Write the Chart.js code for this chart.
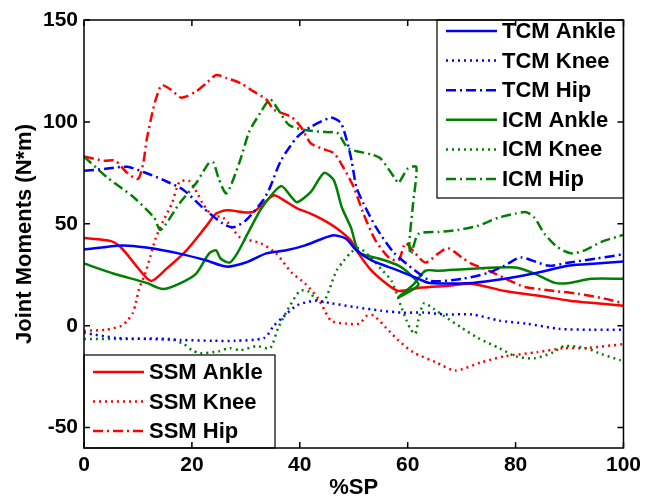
<!DOCTYPE html>
<html lang="en">
<head>
    <meta charset="UTF-8">
    <title>Joint Moments</title>
    <script src="https://cdn.jsdelivr.net/npm/chart.js"></script>
    <style>
        body { margin: 0; background: #fff; }
    </style>
</head>
<body>
    <canvas id="momentsChart" width="646" height="501"></canvas>

    <script>
        // axis ticks
        const xTicks = [0, 20, 40, 60, 80, 100];
        const yTicks = [-50, 0, 50, 100, 150];

        // TCM (blue)
        const tcmAnkleX = [0, 7, 11.5, 17.5, 22.7, 26.4, 30, 33.8, 37.5, 41, 46, 48.5, 50.5, 53.3, 58.3, 62, 64, 72, 78, 84, 90, 95, 100];
        const tcmAnkleY = [37.4, 39.4, 38.4, 35.5, 32, 29, 31, 35.5, 37, 39.4, 44.3, 42.8, 37, 32, 27, 23, 21, 21, 23, 26, 29.5, 30.5, 31.5];
        const tcmKneeX = [0, 6, 12, 18, 24, 28, 33.4, 35.2, 36.8, 39.5, 43, 45.8, 50.6, 55, 59, 63, 67, 72, 77, 82, 88, 94, 100];
        const tcmKneeY = [-3.5, -6, -6.5, -7, -7.4, -7.4, -6, 0, 4, 10, 12.3, 11, 9, 7.4, 6.4, 6.5, 5.5, 5.5, 2.5, 1, -1.5, -2, -2];
        const tcmHipX = [0, 4, 8, 11, 14.8, 18.5, 22, 25.8, 27.7, 30, 33.2, 34.5, 36.5, 39.5, 42, 45.8, 47.6, 48.7, 49.6, 50.5, 51.8, 54.2, 57.4, 61.4, 64.4, 70, 75, 78, 81, 86, 90, 95, 100];
        const tcmHipY = [76, 77, 78, 75.4, 71.4, 66.5, 58, 50, 48.3, 51.7, 61.6, 68, 81, 92.5, 97.5, 102, 99.5, 91, 81, 68, 60, 48, 36, 27, 22, 23, 26, 29.5, 33.5, 29.5, 31, 33, 35];

        // ICM (green)
        const icmAnkleX = [0, 5.4, 11.6, 14.6, 17.7, 20.8, 23.2, 24.5, 25.3, 27, 28.4, 30.5, 33, 36.5, 38.5, 39.5, 42, 44.5, 46.3, 47.8, 49.5, 51, 54.6, 58.3, 60.7, 62, 58.3, 61, 63.3, 65.7, 71.8, 80, 83.5, 87.3, 90, 94, 100];
        const icmAnkleY = [30.5, 25.6, 21, 18, 20.7, 25.6, 35.5, 37, 33, 31, 35.5, 46, 58, 68.5, 63, 60.6, 65.5, 75, 71.4, 58, 48, 36, 33, 29.5, 24.6, 20, 14, 20, 27, 27, 28, 28.6, 25.6, 21, 21, 23, 23];
        const icmKneeX = [0, 8, 16, 18.5, 20, 21.5, 25, 27, 29, 32, 34.5, 36, 38, 40, 41.5, 43, 44.5, 46.8, 48.2, 49.5, 51, 53, 55, 57, 58.7, 59.8, 60.5, 61.4, 62, 63, 64.8, 66.6, 70, 73, 77, 80, 83.5, 87, 89, 93, 96, 99.5];
        const icmKneeY = [-6.5, -6.5, -6.5, -9, -12, -13.5, -12.5, -11, -12, -10, -11, -1, 9, 17, 17, 13, 12, 27, 32, 36, 38, 34, 28, 22, 10, 2.5, -1.5, -4, 3, 11, 8.3, 5, -1, -6, -11, -15, -16, -13, -10, -11, -14, -17];
        const icmHipX = [0, 4.2, 9.2, 13, 14.2, 17.7, 20.8, 23.2, 24, 25, 26.4, 28.8, 30.6, 32.8, 34.5, 36, 38, 41, 44.8, 47, 49, 53.3, 55, 57.7, 58.3, 60, 61.6, 61, 60.3, 60.6, 62, 65.7, 69.4, 73, 76.8, 80, 82, 83.5, 85.4, 87.8, 90.3, 92.8, 95.8, 99.2, 100];
        const icmHipY = [83, 73, 63, 53, 47, 60, 70, 80, 80, 72, 65, 80, 95, 105, 111, 106, 98.5, 96, 95, 94.5, 87, 84, 82, 72, 70, 77, 78, 60, 40, 35, 45, 46, 47, 49, 53, 55, 55.7, 53, 45, 38.5, 35.5, 37, 41, 44, 44.5];

        // SSM (red)
        const ssmAnkleX = [0, 5, 7, 9.5, 12.4, 15.3, 19, 22.7, 24.5, 26.5, 30, 31.5, 33.3, 35.2, 37, 39.5, 42, 44.5, 47, 49.4, 51, 53.3, 56.5, 58.3, 62.5, 67, 72, 78, 84, 90, 95, 100];
        const ssmAnkleY = [43, 41.5, 38, 30, 22, 28, 37, 49, 55, 56.6, 55.6, 56, 60, 64, 61.6, 57.6, 55, 51.7, 47.5, 42, 35, 27, 19.7, 17, 18.7, 19.5, 20.5, 17, 14.8, 12.3, 11, 9.8];
        const ssmKneeX = [0, 4, 7, 8, 9, 9.6, 10.2, 11.4, 12.3, 13.3, 14.8, 16.3, 17.7, 19.5, 21, 22, 23.8, 25.8, 29, 30.6, 32.8, 35.6, 38.5, 41, 43.5, 45.8, 48.7, 51, 52.5, 53.7, 56, 58, 61, 65.3, 68.8, 73.6, 78, 84, 89, 93, 100];
        const ssmKneeY = [-2.5, -2, 0, 2.5, 6, 11, 18, 26, 34, 43, 52, 60, 70.5, 71, 65, 60, 54, 53, 43, 42, 40.4, 35.5, 26, 20.7, 13, 2.5, 1, 1, 5, 5, -1, -6.5, -13, -18, -22, -18, -15, -13, -11, -11, -9];
        const ssmHipX = [0, 3.7, 5.8, 8, 10, 11, 11.6, 12.5, 13.3, 14.4, 16, 17.9, 19, 20.8, 22.7, 24.5, 26.4, 29, 31.4, 33.8, 35.2, 38.4, 40.2, 42, 44, 46.3, 48, 50, 51.8, 54, 56.5, 58.3, 59.6, 61.4, 63.3, 65.7, 67.5, 70, 71.8, 75, 79, 81.7, 87.3, 91.5, 96.5, 100];
        const ssmHipY = [83, 81, 81, 75, 72, 80, 91, 102.5, 111, 118, 116, 112, 112.5, 115, 119, 123, 121.5, 119, 115, 111, 106, 102.5, 97.5, 89.6, 87, 84.7, 78, 68, 55, 42, 33.5, 32, 40.5, 35.5, 31, 35.5, 38, 33.5, 30.5, 27, 22, 19, 17, 15.7, 13.3, 11];

        const BLUE = '#0000ff', GREEN = '#008000', RED = '#ff0000';
        const SOLID = [], DOTTED = [2, 4], DASHDOT = [10, 4, 2, 4];

        const series = [
            { label: 'TCM Ankle', xs: tcmAnkleX, ys: tcmAnkleY, color: BLUE, dash: SOLID },
            { label: 'TCM Knee', xs: tcmKneeX, ys: tcmKneeY, color: BLUE, dash: DOTTED },
            { label: 'TCM Hip', xs: tcmHipX, ys: tcmHipY, color: BLUE, dash: DASHDOT },
            { label: 'ICM Ankle', xs: icmAnkleX, ys: icmAnkleY, color: GREEN, dash: SOLID },
            { label: 'ICM Knee', xs: icmKneeX, ys: icmKneeY, color: GREEN, dash: DOTTED },
            { label: 'ICM Hip', xs: icmHipX, ys: icmHipY, color: GREEN, dash: DASHDOT },
            { label: 'SSM Ankle', xs: ssmAnkleX, ys: ssmAnkleY, color: RED, dash: SOLID },
            { label: 'SSM Knee', xs: ssmKneeX, ys: ssmKneeY, color: RED, dash: DOTTED },
            { label: 'SSM Hip', xs: ssmHipX, ys: ssmHipY, color: RED, dash: DASHDOT }
        ];

        const FONT = '"Liberation Sans", Arial, sans-serif';

        // two MATLAB style legend boxes + box frame with inward ticks
        function drawLegend(ctx, box, items) {
            ctx.save();
            ctx.fillStyle = '#fff';
            ctx.fillRect(box.x, box.y, box.w, box.h);
            ctx.strokeStyle = '#000';
            ctx.lineWidth = 1.2;
            ctx.setLineDash([]);
            ctx.strokeRect(box.x, box.y, box.w, box.h);
            ctx.font = 'bold 22px ' + FONT;
            ctx.textBaseline = 'middle';
            items.forEach((s, i) => {
                const ly = box.y + box.first + i * box.step;
                ctx.strokeStyle = s.color;
                ctx.lineWidth = 2.5;
                ctx.setLineDash(s.dash);
                ctx.beginPath();
                ctx.moveTo(box.x + 9, ly);
                ctx.lineTo(box.x + 60, ly);
                ctx.stroke();
                ctx.fillStyle = '#000';
                ctx.fillText(s.label, box.x + 65, ly + 1);
            });
            ctx.restore();
        }

        const matlabBox = {
            id: 'matlabBox',
            afterDatasetsDraw(chart) {
                const { ctx, chartArea: a, scales } = chart;
                drawLegend(ctx, { x: 437, y: a.top, w: a.right - 437, h: 178, first: 11, step: 29.6 }, series.slice(0, 6));
                drawLegend(ctx, { x: a.left, y: 355, w: 191, h: a.bottom - 355, first: 17, step: 29.5 }, series.slice(6));

                ctx.save();
                ctx.strokeStyle = '#000';
                ctx.lineWidth = 1.5;
                ctx.setLineDash([]);
                ctx.strokeRect(a.left, a.top, a.right - a.left, a.bottom - a.top);
                ctx.beginPath();
                xTicks.forEach(v => {
                    const px = scales.x.getPixelForValue(v);
                    ctx.moveTo(px, a.bottom); ctx.lineTo(px, a.bottom - 6);
                    ctx.moveTo(px, a.top); ctx.lineTo(px, a.top + 6);
                });
                yTicks.forEach(v => {
                    const py = scales.y.getPixelForValue(v);
                    ctx.moveTo(a.left, py); ctx.lineTo(a.left + 6, py);
                    ctx.moveTo(a.right, py); ctx.lineTo(a.right - 6, py);
                });
                ctx.stroke();
                ctx.restore();
            }
        };

        const ctx = document.getElementById('momentsChart').getContext('2d');

        new Chart(ctx, {
            type: 'line',
            data: {
                datasets: series.map(s => ({
                    label: s.label,
                    data: s.xs.map((x, i) => ({ x: x, y: s.ys[i] })),
                    borderColor: s.color,
                    borderWidth: 2.5,
                    borderDash: s.dash,
                    pointRadius: 0,
                    tension: 0.25,
                    fill: false
                }))
            },
            options: {
                responsive: false,
                animation: false,
                devicePixelRatio: 1,
                layout: { padding: { top: 20, right: 20, left: 0, bottom: 0 } },
                plugins: {
                    legend: { display: false },
                    tooltip: { enabled: false }
                },
                scales: {
                    x: {
                        type: 'linear',
                        min: 0,
                        max: 100,
                        afterBuildTicks: scale => { scale.ticks = xTicks.map(v => ({ value: v })); },
                        afterFit: scale => { scale.height = 53; },
                        grid: { display: false, drawTicks: false },
                        border: { display: false },
                        ticks: {
                            color: '#000',
                            padding: 5,
                            maxRotation: 0,
                            font: { family: FONT, size: 21, weight: 'bold' }
                        },
                        title: {
                            display: true,
                            text: '%SP',
                            color: '#000',
                            padding: 0,
                            font: { family: FONT, size: 22, weight: 'bold' }
                        }
                    },
                    y: {
                        min: -60,
                        max: 150,
                        afterBuildTicks: scale => { scale.ticks = yTicks.map(v => ({ value: v })); },
                        afterFit: scale => { scale.width = 84; },
                        grid: { display: false, drawTicks: false },
                        border: { display: false },
                        ticks: {
                            color: '#000',
                            padding: 6,
                            font: { family: FONT, size: 21, weight: 'bold' }
                        },
                        title: {
                            display: true,
                            text: 'Joint Moments (N*m)',
                            color: '#000',
                            padding: { top: 12, bottom: 0 },
                            font: { family: FONT, size: 22, weight: 'bold' }
                        }
                    }
                }
            },
            plugins: [matlabBox]
        });
    </script>
</body>
</html>
